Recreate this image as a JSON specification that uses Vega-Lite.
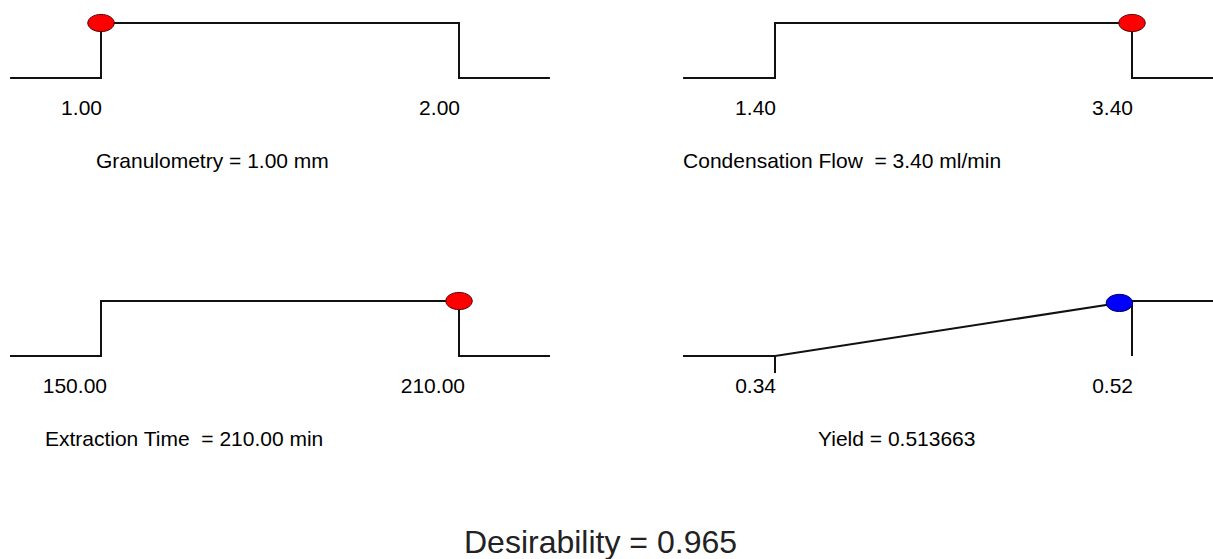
{
  "$schema": "https://vega.github.io/schema/vega-lite/v6.json",
  "width": 1213,
  "height": 559,
  "padding": 0,
  "autosize": {"type": "none"},
  "background": "white",
  "config": {"view": {"stroke": null}, "text": {"font": "Liberation Sans", "color": "#000000"}},
  "title": {"text": "Desirability = 0.965", "orient": "bottom", "anchor": "middle", "font": "Liberation Sans", "fontSize": 32, "fontWeight": "normal", "color": "#222222", "baseline": "alphabetic", "offset": -6, "dx": -6},
  "resolve": {"scale": {"x": "independent", "y": "independent"}},
  "layer": [
    {
      "layer": [
        {
          "data": {"values": [{"i": 0, "x": 0.746, "d": 0}, {"i": 1, "x": 1.0, "d": 0}, {"i": 2, "x": 1.0, "d": 1}, {"i": 3, "x": 2.0, "d": 1}, {"i": 4, "x": 2.0, "d": 0}, {"i": 5, "x": 2.254, "d": 0}]},
          "mark": {"type": "line", "color": "#111111", "strokeWidth": 2, "clip": true},
          "encoding": {
            "x": {"field": "x", "type": "quantitative", "scale": {"domain": [0.71788, 4.10615], "nice": false, "zero": false}, "axis": null},
            "y": {"field": "d", "type": "quantitative", "scale": {"domain": [-8.745, 1.4182], "nice": false, "zero": false}, "axis": null},
            "order": {"field": "i", "type": "quantitative"}
          }
        },
        {
          "data": {"values": [{"x": 1.0, "d": 1}]},
          "mark": {"type": "point", "shape": "M-1,0A1,0.65,0,1,1,1,0A1,0.65,0,1,1,-1,0Z", "size": 700, "filled": true, "fill": "#ff0000", "stroke": "#5a0000", "strokeWidth": 1, "opacity": 1},
          "encoding": {
            "x": {"field": "x", "type": "quantitative", "scale": {"domain": [0.71788, 4.10615], "nice": false, "zero": false}, "axis": null},
            "y": {"field": "d", "type": "quantitative", "scale": {"domain": [-8.745, 1.4182], "nice": false, "zero": false}, "axis": null}
          }
        },
        {
          "data": {"values": [{"x": 1.0, "lab": "1.00"}, {"x": 2.0, "lab": "2.00"}]},
          "mark": {"type": "text", "align": "right", "baseline": "alphabetic", "dx": 1, "dy": 37, "fontSize": 21},
          "encoding": {
            "x": {"field": "x", "type": "quantitative", "scale": {"domain": [0.71788, 4.10615], "nice": false, "zero": false}, "axis": null},
            "y": {"datum": 0, "type": "quantitative", "scale": {"domain": [-8.745, 1.4182], "nice": false, "zero": false}, "axis": null},
            "text": {"field": "lab"}
          }
        },
        {
          "data": {"values": [{"lab": "Granulometry = 1.00 mm"}]},
          "mark": {"type": "text", "align": "left", "baseline": "alphabetic", "dy": 90, "fontSize": 21},
          "encoding": {
            "x": {"datum": 0.986, "type": "quantitative", "scale": {"domain": [0.71788, 4.10615], "nice": false, "zero": false}, "axis": null},
            "y": {"datum": 0, "type": "quantitative", "scale": {"domain": [-8.745, 1.4182], "nice": false, "zero": false}, "axis": null},
            "text": {"field": "lab"}
          }
        }
      ]
    },
    {
      "layer": [
        {
          "data": {"values": [{"i": 0, "x": 0.885, "d": 0}, {"i": 1, "x": 1.4, "d": 0}, {"i": 2, "x": 1.4, "d": 1}, {"i": 3, "x": 3.4, "d": 1}, {"i": 4, "x": 3.4, "d": 0}, {"i": 5, "x": 3.9, "d": 0}]},
          "mark": {"type": "line", "color": "#111111", "strokeWidth": 2, "clip": true},
          "encoding": {
            "x": {"field": "x", "type": "quantitative", "scale": {"domain": [-2.9417, 3.8538], "nice": false, "zero": false}, "axis": null},
            "y": {"field": "d", "type": "quantitative", "scale": {"domain": [-8.745, 1.4182], "nice": false, "zero": false}, "axis": null},
            "order": {"field": "i", "type": "quantitative"}
          }
        },
        {
          "data": {"values": [{"x": 3.4, "d": 1}]},
          "mark": {"type": "point", "shape": "M-1,0A1,0.65,0,1,1,1,0A1,0.65,0,1,1,-1,0Z", "size": 700, "filled": true, "fill": "#ff0000", "stroke": "#5a0000", "strokeWidth": 1, "opacity": 1},
          "encoding": {
            "x": {"field": "x", "type": "quantitative", "scale": {"domain": [-2.9417, 3.8538], "nice": false, "zero": false}, "axis": null},
            "y": {"field": "d", "type": "quantitative", "scale": {"domain": [-8.745, 1.4182], "nice": false, "zero": false}, "axis": null}
          }
        },
        {
          "data": {"values": [{"x": 1.4, "lab": "1.40"}, {"x": 3.4, "lab": "3.40"}]},
          "mark": {"type": "text", "align": "right", "baseline": "alphabetic", "dx": 1, "dy": 37, "fontSize": 21},
          "encoding": {
            "x": {"field": "x", "type": "quantitative", "scale": {"domain": [-2.9417, 3.8538], "nice": false, "zero": false}, "axis": null},
            "y": {"datum": 0, "type": "quantitative", "scale": {"domain": [-8.745, 1.4182], "nice": false, "zero": false}, "axis": null},
            "text": {"field": "lab"}
          }
        },
        {
          "data": {"values": [{"lab": "Condensation Flow \u00a0= 3.40 ml/min"}]},
          "mark": {"type": "text", "align": "left", "baseline": "alphabetic", "dy": 90, "fontSize": 21},
          "encoding": {
            "x": {"datum": 0.885, "type": "quantitative", "scale": {"domain": [-2.9417, 3.8538], "nice": false, "zero": false}, "axis": null},
            "y": {"datum": 0, "type": "quantitative", "scale": {"domain": [-8.745, 1.4182], "nice": false, "zero": false}, "axis": null},
            "text": {"field": "lab"}
          }
        }
      ]
    },
    {
      "layer": [
        {
          "data": {"values": [{"i": 0, "x": 134.75, "d": 0}, {"i": 1, "x": 150, "d": 0}, {"i": 2, "x": 150, "d": 1}, {"i": 3, "x": 210, "d": 1}, {"i": 4, "x": 210, "d": 0}, {"i": 5, "x": 225.25, "d": 0}]},
          "mark": {"type": "line", "color": "#111111", "strokeWidth": 2, "clip": true},
          "encoding": {
            "x": {"field": "x", "type": "quantitative", "scale": {"domain": [133.073, 336.37], "nice": false, "zero": false}, "axis": null},
            "y": {"field": "d", "type": "quantitative", "scale": {"domain": [-3.6909, 6.4727], "nice": false, "zero": false}, "axis": null},
            "order": {"field": "i", "type": "quantitative"}
          }
        },
        {
          "data": {"values": [{"x": 210, "d": 1}]},
          "mark": {"type": "point", "shape": "M-1,0A1,0.65,0,1,1,1,0A1,0.65,0,1,1,-1,0Z", "size": 700, "filled": true, "fill": "#ff0000", "stroke": "#5a0000", "strokeWidth": 1, "opacity": 1},
          "encoding": {
            "x": {"field": "x", "type": "quantitative", "scale": {"domain": [133.073, 336.37], "nice": false, "zero": false}, "axis": null},
            "y": {"field": "d", "type": "quantitative", "scale": {"domain": [-3.6909, 6.4727], "nice": false, "zero": false}, "axis": null}
          }
        },
        {
          "data": {"values": [{"x": 150, "lab": "150.00"}, {"x": 210, "lab": "210.00"}]},
          "mark": {"type": "text", "align": "right", "baseline": "alphabetic", "dx": 6, "dy": 37, "fontSize": 21},
          "encoding": {
            "x": {"field": "x", "type": "quantitative", "scale": {"domain": [133.073, 336.37], "nice": false, "zero": false}, "axis": null},
            "y": {"datum": 0, "type": "quantitative", "scale": {"domain": [-3.6909, 6.4727], "nice": false, "zero": false}, "axis": null},
            "text": {"field": "lab"}
          }
        },
        {
          "data": {"values": [{"lab": "Extraction Time \u00a0= 210.00 min"}]},
          "mark": {"type": "text", "align": "left", "baseline": "alphabetic", "dy": 90, "fontSize": 21},
          "encoding": {
            "x": {"datum": 140.6, "type": "quantitative", "scale": {"domain": [133.073, 336.37], "nice": false, "zero": false}, "axis": null},
            "y": {"datum": 0, "type": "quantitative", "scale": {"domain": [-3.6909, 6.4727], "nice": false, "zero": false}, "axis": null},
            "text": {"field": "lab"}
          }
        }
      ]
    },
    {
      "layer": [
        {
          "data": {"values": [
            {"seg": "ramp", "i": 0, "x": 0.2936, "d": 0}, {"seg": "ramp", "i": 1, "x": 0.34, "d": 0}, {"seg": "ramp", "i": 2, "x": 0.52, "d": 1}, {"seg": "ramp", "i": 3, "x": 0.58, "d": 1},
            {"seg": "upper", "i": 4, "x": 0.52, "d": 1}, {"seg": "upper", "i": 5, "x": 0.52, "d": 0},
            {"seg": "lower", "i": 6, "x": 0.34, "d": 0}, {"seg": "lower", "i": 7, "x": 0.34, "d": -0.31}
          ]},
          "mark": {"type": "line", "color": "#111111", "strokeWidth": 2, "clip": true},
          "encoding": {
            "x": {"field": "x", "type": "quantitative", "scale": {"domain": [-0.05076, 0.56084], "nice": false, "zero": false}, "axis": null},
            "y": {"field": "d", "type": "quantitative", "scale": {"domain": [-3.6909, 6.4727], "nice": false, "zero": false}, "axis": null},
            "detail": {"field": "seg", "type": "nominal"},
            "order": {"field": "i", "type": "quantitative"}
          }
        },
        {
          "data": {"values": [{"x": 0.513663, "d": 0.9648}]},
          "mark": {"type": "point", "shape": "M-1,0A1,0.65,0,1,1,1,0A1,0.65,0,1,1,-1,0Z", "size": 700, "filled": true, "fill": "#0000ff", "stroke": "#00004d", "strokeWidth": 1, "opacity": 1},
          "encoding": {
            "x": {"field": "x", "type": "quantitative", "scale": {"domain": [-0.05076, 0.56084], "nice": false, "zero": false}, "axis": null},
            "y": {"field": "d", "type": "quantitative", "scale": {"domain": [-3.6909, 6.4727], "nice": false, "zero": false}, "axis": null}
          }
        },
        {
          "data": {"values": [{"x": 0.34, "lab": "0.34"}, {"x": 0.52, "lab": "0.52"}]},
          "mark": {"type": "text", "align": "right", "baseline": "alphabetic", "dx": 1, "dy": 37, "fontSize": 21},
          "encoding": {
            "x": {"field": "x", "type": "quantitative", "scale": {"domain": [-0.05076, 0.56084], "nice": false, "zero": false}, "axis": null},
            "y": {"datum": 0, "type": "quantitative", "scale": {"domain": [-3.6909, 6.4727], "nice": false, "zero": false}, "axis": null},
            "text": {"field": "lab"}
          }
        },
        {
          "data": {"values": [{"lab": "Yield = 0.513663"}]},
          "mark": {"type": "text", "align": "left", "baseline": "alphabetic", "dy": 90, "fontSize": 21},
          "encoding": {
            "x": {"datum": 0.3617, "type": "quantitative", "scale": {"domain": [-0.05076, 0.56084], "nice": false, "zero": false}, "axis": null},
            "y": {"datum": 0, "type": "quantitative", "scale": {"domain": [-3.6909, 6.4727], "nice": false, "zero": false}, "axis": null},
            "text": {"field": "lab"}
          }
        }
      ]
    }
  ]
}
